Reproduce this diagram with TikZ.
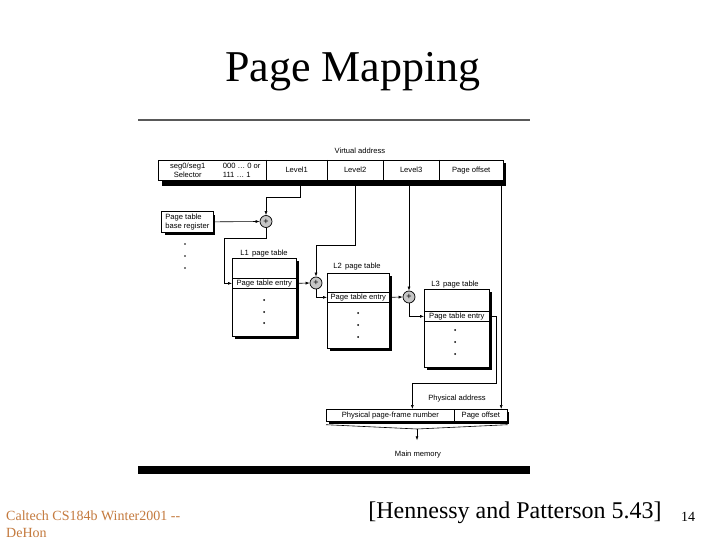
\documentclass[tikz,border=0pt]{standalone}
\usepackage{fontspec}
\setmainfont{Liberation Serif}
\newfontfamily\sfa{Liberation Sans}
\usetikzlibrary{arrows.meta,calc}
\definecolor{footc}{RGB}{196,122,62}
\begin{document}
\begin{tikzpicture}[x=1pt,y=-1pt,
  lbl/.style={font=\sfa\fontsize{7.6}{8.6}\selectfont, inner sep=0pt},
  cell/.style={lbl, minimum height=20pt, anchor=north west},
  tbl/.style={draw, fill=white, line width=0.7pt, anchor=north west, inner sep=0pt},
  entry/.style={lbl, draw, fill=white, line width=0.7pt, minimum height=10pt, anchor=north west},
  adder/.style={circle, draw, line width=0.7pt, fill=gray!45, minimum size=12pt, inner sep=0pt, font=\sfa\fontsize{9}{9}\selectfont},
  arr/.style={line width=0.6pt, -{Latex[length=4pt,width=3pt]}},
  ln/.style={line width=0.6pt},
  shad/.style={fill=black, draw=none},
  dot/.style={fill=black}]
\useasboundingbox (0,0) rectangle (720,540);
\fill[white] (0,0) rectangle (720,540);

% title and footer
\node[font=\fontsize{44}{50}\selectfont, anchor=base, inner sep=0pt] (title) at (353,82) {Page Mapping};
\node[font=\fontsize{14}{16}\selectfont, text=footc, anchor=base west, inner sep=0pt] (foot1) at (6,520) {Caltech CS184b Winter2001 -{}-};
\node[font=\fontsize{14}{16}\selectfont, text=footc, anchor=base west, inner sep=0pt] (foot2) at (6,537) {DeHon};
\node[font=\fontsize{24}{28}\selectfont, anchor=base, inner sep=0pt] (cite) at (515,518) {[Hennessy and Patterson 5.43]};
\node[font=\fontsize{14}{16}\selectfont, anchor=base, inner sep=0pt] (pnum) at (688,521) {14};

% frame of the figure
\draw[gray!70!black, line width=1.2pt] (138,120) -- (530,120);
\fill (138,466) rectangle (530,474);

% virtual address
\node[lbl] (va) at (360,151) {Virtual address};
\fill[shad] (162,163) rectangle (506,186);
\draw[fill=white, line width=0.7pt] (158,160) rectangle (503,180);
\node[cell, minimum width=59pt, align=center] (sel) at (158,160) {seg0/seg1\\Selector};
\node[cell, minimum width=49pt, align=left] (ones) at (217,160) {000 \dots{} 0 or\\111 \dots{} 1};
\node[cell, minimum width=61pt] (lev1) at (266,160) {Level1};
\node[cell, minimum width=56pt] (lev2) at (327,160) {Level2};
\node[cell, minimum width=56pt] (lev3) at (383,160) {Level3};
\node[cell, minimum width=64pt] (poff) at (439,160) {Page offset};
\foreach \c in {lev1,lev2,lev3,poff} \draw[line width=0.7pt] (\c.north west) -- (\c.south west);

% page table base register
\fill[shad] (165,215) rectangle (215,235);
\node[lbl, draw, fill=white, line width=0.7pt, anchor=north west, minimum width=52pt, minimum height=21pt, align=left, inner sep=1.5pt] (pbr) at (161,211) {Page table\\base register};
\foreach \y in {244,256,268} \fill[dot] (185,\y) circle (0.9);

\node[adder] (add1) at (266,221.5) {+};
\node[adder] (add2) at (316,283) {+};
\node[adder] (add3) at (409,297) {+};

% L1 page table
\fill[shad] (235,261) rectangle (299,339);
\node[tbl, minimum width=64pt, minimum height=78pt] (l1) at (232,258) {};
\node[entry, minimum width=64pt] (l1e) at (232,278) {Page table entry};
\node[lbl, anchor=base] (l1t) at (264,255) {L1\, page table};
\foreach \y in {300,312,323} \fill[dot] (264,\y) circle (1);

% L2 page table
\fill[shad] (330,276) rectangle (392,351);
\node[tbl, minimum width=62pt, minimum height=75pt] (l2) at (327,273) {};
\node[entry, minimum width=62pt] (l2e) at (327,292) {Page table entry};
\node[lbl, anchor=base] (l2t) at (357,268) {L2\, page table};
\foreach \y in {313,325,337} \fill[dot] (358,\y) circle (1);

% L3 page table
\fill[shad] (427,292) rectangle (492,370);
\node[tbl, minimum width=65pt, minimum height=78pt] (l3) at (424,289) {};
\node[entry, minimum width=65pt] (l3e) at (424,311) {Page table entry};
\node[lbl, anchor=base] (l3t) at (455,286) {L3\, page table};
\foreach \y in {330,342,354} \fill[dot] (455,\y) circle (1);

% physical address
\node[lbl] (pa) at (457,399) {Physical address};
\fill[shad] (329,412) rectangle (509,424);
\node[entry, minimum width=128pt, minimum height=12pt] (ppn) at (326,409) {Physical page-frame number};
\node[entry, minimum width=53pt, minimum height=12pt] (pof) at (454,409) {Page offset};
\node[lbl, anchor=base] (mm) at (418,456) {Main memory};

% connectors
\draw[arr] ([xshift=3.5pt]lev1.south) -- ++(0,17) -| (add1.north);
\draw[arr] (pbr.east) -- (add1.west);
\draw[arr] (add1.south) -- ++(0,10) -| ([xshift=-8pt]l1e.west) -- (l1e.west);
\draw[arr] (l1e.east) -- (add2.west);
\draw[arr] (lev2.south) -- ++(0,65) -| (add2.north);
\draw[arr] (add2.south) |- (l2e.west);
\draw[arr] (l2e.east) -- (add3.west);
\draw[arr] (lev3.south -| add3.north) -- (add3.north);
\draw[arr] (add3.south) |- (l3e.west);
\coordinate (j) at (496,383);
\draw[arr] (l3e.east) -| (j) -| ([xshift=22pt]ppn.north);
\draw[arr] ([xshift=30pt]poff.south) -- ([xshift=30pt]poff.south |- pof.north);
\coordinate (apex) at (417,429);
\draw[ln] ([yshift=-3pt]ppn.south west) -- (apex) -- ([yshift=-3pt]pof.south east);
\draw[arr, shorten >=10pt] (apex) -- (apex |- mm.north);
\end{tikzpicture}
\end{document}
